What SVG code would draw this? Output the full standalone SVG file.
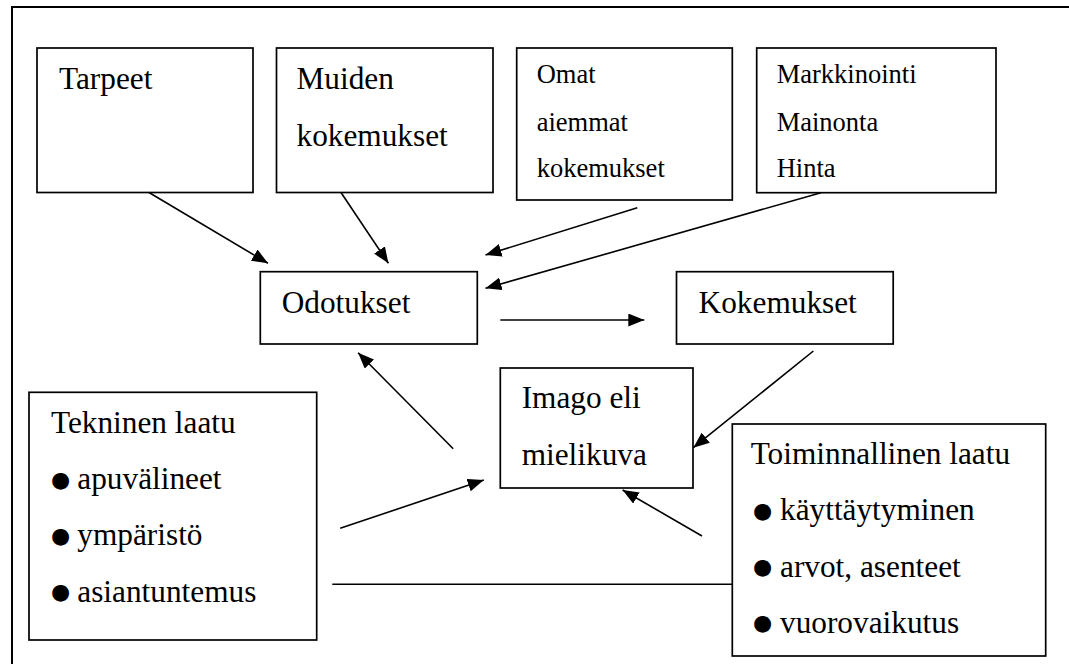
<svg xmlns="http://www.w3.org/2000/svg" width="1069" height="664" viewBox="0 0 1069 664">
<style>
.box{fill:#fff;stroke:#000;stroke-width:1.7}
.frame{fill:none;stroke:#000;stroke-width:2}
.t{font-size:31.3px;fill:#000}
.s{font-size:26.5px;fill:#000}
.b{font-family:'DejaVu Sans',sans-serif;font-size:22px;fill:#000}
.c{stroke:#000;stroke-width:1.6;fill:none}
.a{marker-end:url(#ah)}
</style>
<defs>
<marker id="ah" markerUnits="userSpaceOnUse" markerWidth="17" markerHeight="13" refX="16" refY="6.5" orient="auto">
<path d="M0,0 L16,6.5 L0,13 z" fill="#000"/>
</marker>
</defs>
<rect width="1069" height="664" fill="#fff"/>
<rect class="frame" x="12" y="7" width="1080" height="680"/>
<g font-family="Liberation Serif, DejaVu Serif, serif">
<g id="tarpeet">
<rect class="box" x="37" y="48" width="216" height="144.5"/>
<text class="t" x="59" y="89">Tarpeet</text>
</g>
<g id="muiden">
<rect class="box" x="276.5" y="48" width="216.5" height="144.5"/>
<text class="t" x="296.5" y="89.3">Muiden</text>
<text class="t" x="296.5" y="145.7">kokemukset</text>
</g>
<g id="omat">
<rect class="box" x="516.7" y="48" width="215.6" height="152"/>
<text class="s" x="536.7" y="83.3">Omat</text>
<text class="s" x="536.7" y="130.7">aiemmat</text>
<text class="s" x="536.7" y="177.3">kokemukset</text>
</g>
<g id="markkinointi">
<rect class="box" x="756.7" y="48" width="239.3" height="144.7"/>
<text class="s" x="776.7" y="83.3">Markkinointi</text>
<text class="s" x="776.7" y="130.7">Mainonta</text>
<text class="s" x="776.7" y="177.3">Hinta</text>
</g>
<g id="odotukset">
<rect class="box" x="260.3" y="271.7" width="217" height="72.3"/>
<text class="t" x="281.7" y="312.7">Odotukset</text>
</g>
<g id="kokemukset">
<rect class="box" x="676.5" y="271.7" width="216.7" height="72.3"/>
<text class="t" x="698.6" y="312.7">Kokemukset</text>
</g>
<g id="imago">
<rect class="box" x="500.3" y="368" width="192.7" height="120"/>
<text class="t" x="521.7" y="408.3">Imago eli</text>
<text class="t" x="521.7" y="465">mielikuva</text>
</g>
<g id="tekninen">
<rect class="box" x="29" y="392.3" width="287.7" height="247.7"/>
<text class="t" x="51" y="433.3">Tekninen laatu</text>
<text class="b" x="51" y="487">●</text>
<text class="t" x="77.3" y="489.3">apuvälineet</text>
<text class="b" x="51" y="542.7">●</text>
<text class="t" x="77.3" y="545">ympäristö</text>
<text class="b" x="51" y="599.4">●</text>
<text class="t" x="77.3" y="601.7">asiantuntemus</text>
</g>
<g id="toiminnallinen">
<rect class="box" x="732.3" y="424" width="313.4" height="232"/>
<text class="t" x="750.7" y="464">Toiminnallinen laatu</text>
<text class="b" x="753" y="517.7">●</text>
<text class="t" x="780" y="520">käyttäytyminen</text>
<text class="b" x="753" y="574.4">●</text>
<text class="t" x="780" y="576.7">arvot, asenteet</text>
<text class="b" x="753" y="630.4">●</text>
<text class="t" x="780" y="632.7">vuorovaikutus</text>
</g>
</g>
<g id="connectors">
<line class="c a" x1="149" y1="192.5" x2="268" y2="263.3"/>
<line class="c a" x1="341" y1="192.5" x2="388.4" y2="263.3"/>
<line class="c a" x1="637.3" y1="207.7" x2="485.5" y2="255"/>
<line class="c a" x1="821" y1="192.7" x2="485.5" y2="288.3"/>
<line class="c a" x1="500.3" y1="320" x2="644.3" y2="320"/>
<line class="c a" x1="813.4" y1="351" x2="693.3" y2="447.7"/>
<line class="c a" x1="453.2" y1="448.7" x2="358.1" y2="352.7"/>
<line class="c a" x1="340.2" y1="528.3" x2="483.8" y2="480"/>
<line class="c a" x1="702" y1="536" x2="622.6" y2="490"/>
<line class="c" x1="332.3" y1="584.3" x2="732.3" y2="584.3"/>
</g>
</svg>
